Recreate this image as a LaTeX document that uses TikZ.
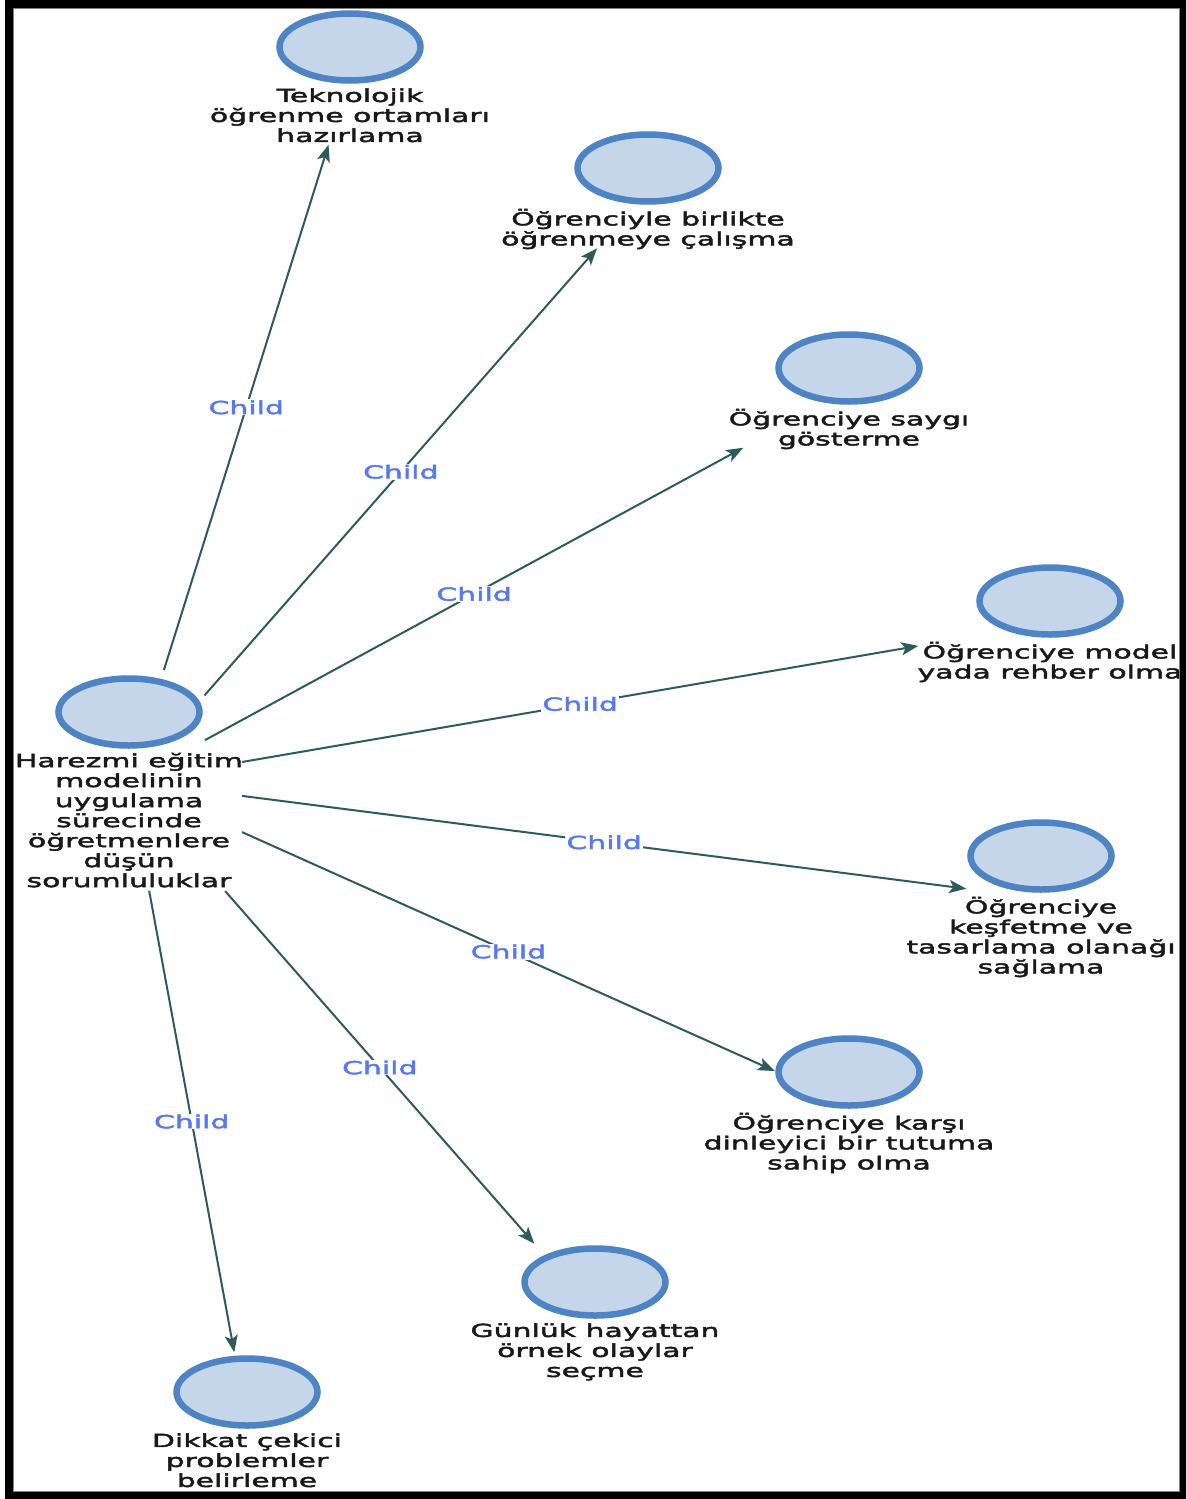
\documentclass[tikz,border=0pt]{standalone}
\usepackage{fontspec}
\newfontfamily\dfont[FakeStretch=1.66,FakeBold=2.5]{DejaVu Sans}
\usetikzlibrary{arrows.meta,shapes.geometric,fit,calc}

\definecolor{nfill}{HTML}{C5D6EA}
\definecolor{nline}{HTML}{4F84C4}
\definecolor{eline}{HTML}{2F5A5A}
\definecolor{lblue}{HTML}{5879EC}
\newcommand\ls{\rule{0pt}{14pt}}

\tikzset{
 bubble/.style={ellipse, draw=nline, line width=6.5pt, fill=nfill, minimum width=141pt, minimum height=67pt, inner sep=0pt},
 caption/.style={anchor=north, align=center, inner sep=0pt, font=\dfont\fontsize{18}{20}\selectfont, text=black!90},
 grp/.style={inner sep=0pt, draw=none},
 link/.style={draw=eline, line width=2pt, -{Stealth[length=17pt,width=13pt,inset=4pt]}},
 tag/.style={fill=white, inner sep=1pt, text=lblue, font=\dfont\fontsize{18}{20}\selectfont}
}

\begin{document}
\begin{tikzpicture}[x=1pt,y=-1pt]
\useasboundingbox (0,0) rectangle (1186,1499);

% hub
\node[bubble] (e0) at (129,712) {};
\node[caption] (t0) at ([yshift=-4pt]e0.south) {\ls Harezmi eğitim\\modelinin\\uygulama\\sürecinde\\öğretmenlere\\düşün\\sorumluluklar};
\node[grp, fit=(e0)(t0)] (g0) {};

% targets
\node[bubble] (e1) at (350,47) {};
\node[caption] (t1) at ([yshift=-4pt]e1.south) {\ls Teknolojik\\öğrenme ortamları\\hazırlama};
\node[grp, fit=(e1)(t1)] (g1) {};

\node[bubble] (e2) at (648,168) {};
\node[caption] (t2) at ([yshift=-4pt]e2.south) {\ls Öğrenciyle birlikte\\öğrenmeye çalışma};
\node[grp, fit=(e2)(t2)] (g2) {};

\node[bubble] (e3) at (849,368) {};
\node[caption] (t3) at ([yshift=-4pt]e3.south) {\ls Öğrenciye saygı\\gösterme};
\node[grp, fit=(e3)(t3)] (g3) {};

\node[bubble] (e4) at (1050,601) {};
\node[caption] (t4) at ([yshift=-4pt]e4.south) {\ls Öğrenciye model\\yada rehber olma};
\node[grp, fit=(e4)(t4)] (g4) {};

\node[bubble] (e5) at (1041,856) {};
\node[caption] (t5) at ([yshift=-4pt]e5.south) {\ls Öğrenciye\\keşfetme ve\\tasarlama olanağı\\sağlama};
\node[grp, fit=(e5)(t5)] (g5) {};

\node[bubble] (e6) at (849,1072) {};
\node[caption] (t6) at ([yshift=-4pt]e6.south) {\ls Öğrenciye karşı\\dinleyici bir tutuma\\sahip olma};
\node[grp, fit=(e6)(t6)] (g6) {};

\node[bubble] (e7) at (595,1282) {};
\node[caption] (t7) at ([yshift=-4pt]e7.south) {\ls Günlük hayattan\\örnek olaylar\\seçme};
\node[grp, fit=(e7)(t7)] (g7) {};

\node[bubble] (e8) at (247,1392) {};
\node[caption] (t8) at ([yshift=-4pt]e8.south) {\ls Dikkat çekici\\problemler\\belirleme};
\node[grp, fit=(e8)(t8)] (g8) {};

% connectors: along the line between group centres, cut where they leave the shapes
\foreach \i/\a/\b in {1/0.158/0.903, 2/0.1455/0.902, 3/0.1056/0.853, 4/0.1227/0.857,
                      5/0.124/0.918, 6/0.157/0.897, 7/0.2064/0.87, 8/0.171/0.892}{
  \draw[link] ($(g0)!\a!(g\i)$) -- node[tag] (l\i) {Child} ($(g0)!\b!(g\i)$);
}

% frame
\fill[black, even odd rule] (5,0) rectangle (1186,1499) (13,8) rectangle (1180,1492);
\draw[gray, line width=1pt] (13.5,8.5) rectangle (1179.5,1491.5);
\end{tikzpicture}
\end{document}
